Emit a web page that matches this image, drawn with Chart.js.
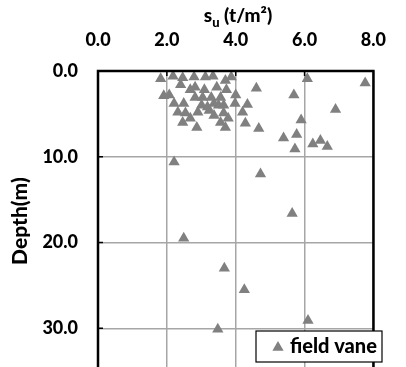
<!DOCTYPE html>
<html>
<head>
<meta charset="utf-8">
<script src="https://cdn.jsdelivr.net/npm/chart.js"></script>
<style>
  html, body { margin: 0; padding: 0; background: #fff; overflow: hidden; }
  #wrap { width: 406px; height: 402px; position: relative; }
</style>
</head>
<body>
<div id="wrap"><canvas id="chartVane"></canvas></div>
<script>
  // field vane su (t/m2) vs depth (m)
  const suValues = [
    1.82, 2.18, 2.46, 2.79, 3.12, 3.34, 3.70, 3.87,
    1.91, 2.07, 2.40, 2.82, 3.45, 3.73,
    2.21, 2.49, 2.82, 3.04, 3.29, 3.56, 4.00,
    2.32, 2.54, 2.90, 3.23, 3.65, 3.98, 4.20,
    2.46, 2.87, 3.56, 3.70, 3.18, 3.37, 3.01,
    2.68, 3.09, 3.50, 2.68, 3.37, 3.78, 3.65,
    6.08, 7.76, 4.60, 5.69, 4.34, 6.90, 5.90, 4.28, 4.67,
    5.77, 5.39, 6.24, 6.46, 6.66, 5.72,
    2.21, 4.72, 5.64, 2.49, 3.67, 4.25, 6.10, 3.48
  ];
  const depthValues = [
    0.9, 0.6, 0.8, 0.7, 0.7, 0.6, 1.1, 0.7,
    2.9, 2.8, 1.6, 1.9, 1.9, 2.2,
    3.8, 3.8, 3.1, 3.1, 3.1, 3.1, 2.8,
    4.8, 4.9, 4.8, 4.6, 4.9, 3.8, 4.8,
    6.0, 6.6, 6.0, 6.6, 4.2, 3.8, 4.0,
    2.2, 2.2, 4.0, 5.5, 5.2, 5.5, 4.0,
    0.9, 1.4, 2.0, 2.8, 3.9, 4.5, 5.7, 6.1, 6.7,
    7.4, 7.8, 8.5, 8.1, 8.8, 9.1,
    10.6, 12.0, 16.6, 19.5, 23.0, 25.5, 29.1, 30.1
  ];
  const xTicks = [0, 2, 4, 6, 8];
  const yTicks = [0, 10, 20, 30];
  const seriesName = 'field vane';

  const MARK = '#808080';
  const GRID = '#a6a6a6';
  const FONT = 'Lato, "Open Sans", sans-serif';
  const WEIGHT = '900';

  const points = suValues.map((v, i) => ({ x: v, y: depthValues[i] }));

  // frame, inward ticks, su title, boxed legend
  const decor = {
    id: 'decor',
    afterDraw(chart) {
      const { ctx, chartArea: a, scales } = chart;
      ctx.save();
      ctx.strokeStyle = '#000';
      ctx.lineWidth = 1.5;
      ctx.beginPath();
      xTicks.slice(1, -1).forEach(v => {
        const px = scales.x.getPixelForValue(v);
        ctx.moveTo(px, a.top); ctx.lineTo(px, a.top + 5);
      });
      yTicks.slice(1).forEach(v => {
        const py = scales.y.getPixelForValue(v);
        ctx.moveTo(a.left, py); ctx.lineTo(a.left + 5, py);
      });
      ctx.stroke();

      ctx.lineWidth = 2.5;
      ctx.beginPath();
      ctx.moveTo(a.left, a.bottom + 20);
      ctx.lineTo(a.left, a.top);
      ctx.lineTo(a.right, a.top);
      ctx.lineTo(a.right, a.bottom + 20);
      ctx.stroke();

      // s_u (t/m²)
      ctx.fillStyle = '#000';
      ctx.textBaseline = 'alphabetic';
      const big = WEIGHT + ' 19px ' + FONT, small = WEIGHT + ' 13px ' + FONT;
      ctx.font = big;
      const w1 = ctx.measureText('s').width;
      const w3 = ctx.measureText(' (t/m²)').width;
      ctx.font = small;
      const w2 = ctx.measureText('u').width;
      const cx = 238;
      let tx = cx - (w1 + w2 + w3) / 2;
      const ty = 22;
      ctx.font = big; ctx.fillText('s', tx, ty); tx += w1;
      ctx.font = small; ctx.fillText('u', tx, ty + 5); tx += w2;
      ctx.font = big; ctx.fillText(' (t/m²)', tx, ty);

      // legend
      const lx = 256, ly = 331, lw = 126, lh = 31;
      ctx.fillStyle = '#fff';
      ctx.fillRect(lx, ly, lw, lh);
      ctx.lineWidth = 1.2;
      ctx.strokeStyle = '#000';
      ctx.strokeRect(lx, ly, lw, lh);
      ctx.fillStyle = MARK;
      ctx.beginPath();
      const r = 6.5, px = lx + 22, py = ly + lh / 2 + 1;
      ctx.moveTo(px, py - r);
      ctx.lineTo(px + r * 0.866, py + r / 2);
      ctx.lineTo(px - r * 0.866, py + r / 2);
      ctx.closePath();
      ctx.fill();
      ctx.fillStyle = '#000';
      ctx.font = WEIGHT + ' 20px ' + FONT;
      ctx.textBaseline = 'middle';
      ctx.fillText(seriesName, lx + 34, ly + lh / 2);
      ctx.restore();
    }
  };

  new Chart(document.getElementById('chartVane'), {
    type: 'scatter',
    data: {
      datasets: [{
        label: seriesName,
        data: points,
        pointStyle: 'triangle',
        pointRadius: 6.5,
        pointHoverRadius: 6.5,
        backgroundColor: MARK,
        borderColor: MARK,
        borderWidth: 0
      }]
    },
    options: {
      responsive: true,
      maintainAspectRatio: false,
      animation: false,
      layout: { padding: { top: 30, right: 14, left: 0, bottom: 0 } },
      plugins: { legend: { display: false }, tooltip: { enabled: false } },
      scales: {
        x: {
          type: 'linear',
          position: 'top',
          min: 0, max: 8,
          afterBuildTicks: s => { s.ticks = xTicks.map(v => ({ value: v })); },
          afterFit: s => { s.height = 41; },
          ticks: {
            padding: 20,
            color: '#000',
            font: { family: FONT, size: 18, weight: WEIGHT },
            callback: v => v.toFixed(1)
          },
          grid: { color: GRID, lineWidth: 1.5, drawTicks: false },
          border: { display: false }
        },
        y: {
          type: 'linear',
          reverse: true,
          min: 0, max: 35,
          afterBuildTicks: s => { s.ticks = yTicks.map(v => ({ value: v })); },
          afterFit: s => { s.width = 98; },
          ticks: {
            padding: 20,
            color: '#000',
            font: { family: FONT, size: 18, weight: WEIGHT },
            callback: v => v.toFixed(1)
          },
          title: {
            display: true,
            text: 'Depth(m)',
            color: '#000',
            font: { family: FONT, size: 21, weight: WEIGHT },
            padding: { top: 8, bottom: 4 }
          },
          grid: { color: GRID, lineWidth: 1.5, drawTicks: false },
          border: { display: false }
        }
      }
    },
    plugins: [decor]
  });
</script>
</body>
</html>
